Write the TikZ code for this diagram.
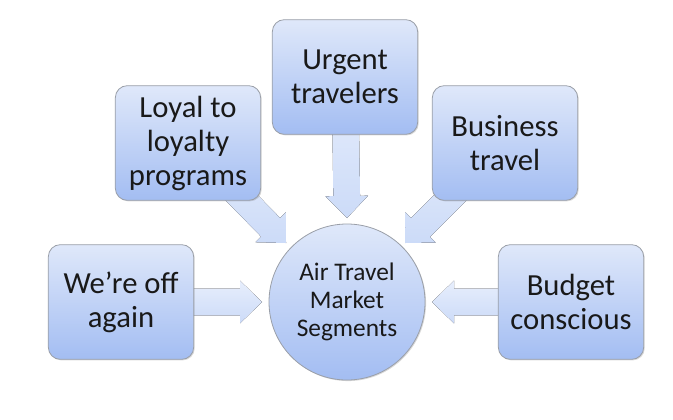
\documentclass[tikz,border=0pt]{standalone}
\usepackage{fontspec}
\setmainfont{Carlito}
\usepackage{xcolor}
\usepackage{tikz}
\usetikzlibrary{calc,shadows,backgrounds}

\definecolor{segtop}{HTML}{DFE8FA}
\definecolor{segbot}{HTML}{A3BDF2}
\definecolor{segline}{HTML}{9A9FA8}
\definecolor{arrtop}{HTML}{E7EEFC}
\definecolor{arrbot}{HTML}{CCDBF8}

% block arrow from a box (#1) to a tip (#2)
\newcommand{\segarrow}[3]{%
  \coordinate (#3b) at ($(#2)!16.5pt!(#1)$);
  \fill[arrowfill] (#2) -- ($(#3b)!16pt!90:(#2)$) -- ($(#3b)!10pt!90:(#2)$)
     -- ($(#1)!10pt!90:(#2)$) -- ($(#1)!10pt!-90:(#2)$) -- ($(#3b)!10pt!-90:(#2)$)
     -- ($(#3b)!16pt!-90:(#2)$) -- cycle;}

\begin{document}
\begin{tikzpicture}[x=0.75pt,y=-0.75pt,
  segbox/.style={draw=segline, line width=0.6pt, rounded corners=9pt,
    top color=segtop, bottom color=segbot, minimum width=109pt, minimum height=86pt,
    align=center, text=black!90, font={\fontsize{23}{25.5}\selectfont},
    drop shadow={shadow xshift=0.8pt, shadow yshift=-0.8pt, opacity=0.3}},
  hub/.style={circle, draw=segline, line width=0.6pt, top color=segtop, bottom color=segbot,
    minimum size=117pt, inner sep=0pt, align=center, text=black!90,
    font={\fontsize{19}{21}\selectfont},
    drop shadow={shadow xshift=0.8pt, shadow yshift=-0.8pt, opacity=0.3}},
  arrowfill/.style={top color=arrtop, bottom color=arrbot}]
\useasboundingbox (0,0) rectangle (673,420);

\node[hub] (hub) at (347,302) {Air Travel\\Market\\Segments};

\node[segbox] (urgent) at (345,77) {Urgent\\travelers};
\node[segbox] (loyal) at (188,143) {Loyal to\\loyalty\\programs};
\node[segbox] (business) at (505,143) {Business\\travel};
\node[segbox] (offagain) at (121,302) {We’re off\\again};
\node[segbox] (budget) at (571,302) {Budget\\conscious};

% tips just short of the hub
\coordinate (tipU) at ($(hub)+(0,-84)$);
\coordinate (tipL) at ($(hub)+(-61,-59)$);
\coordinate (tipB) at ($(hub)+(58,-59)$);
\coordinate (tipO) at ($(hub)+(-85,0)$);
\coordinate (tipG) at ($(hub)+(85,0)$);

\begin{scope}[on background layer]
\segarrow{urgent}{tipU}{aU}
\segarrow{loyal}{tipL}{aL}
\segarrow{business}{tipB}{aB}
\segarrow{offagain}{tipO}{aO}
\segarrow{budget}{tipG}{aG}
\end{scope}

\end{tikzpicture}
\end{document}
